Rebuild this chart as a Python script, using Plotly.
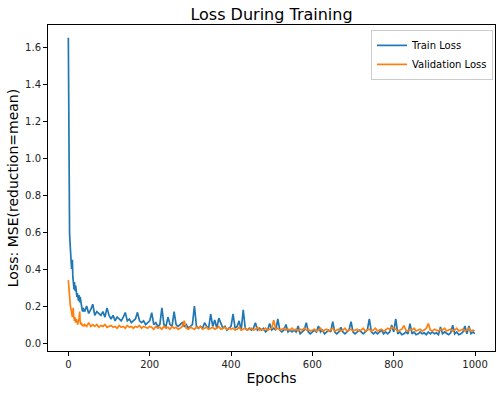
import plotly.graph_objects as go

# x positions: every epoch for the first 40, then every 5 epochs, last epoch 999
EPOCHS = list(range(0, 40)) + list(range(40, 1000, 5)) + [999]

TRAIN_LOSS = [
    # 0-39
    1.65, 0.80, 0.68, 0.60, 0.55, 0.50, 0.46, 0.44, 0.40, 0.42,
    0.45, 0.36, 0.32, 0.31, 0.29, 0.33, 0.30, 0.28, 0.31, 0.29,
    0.26, 0.25, 0.27, 0.24, 0.25, 0.23, 0.26, 0.24, 0.22, 0.25,
    0.23, 0.21, 0.20, 0.19, 0.18, 0.17, 0.18, 0.19, 0.17, 0.18,
    # 40-100
    0.17, 0.20, 0.16, 0.18, 0.21, 0.15, 0.17, 0.16, 0.15, 0.17, 0.14, 0.19, 0.15,
    # 105-200
    0.13, 0.15, 0.12, 0.14, 0.13, 0.12, 0.14, 0.165, 0.12, 0.13,
    0.11, 0.12, 0.13, 0.166, 0.12, 0.11, 0.12, 0.10, 0.11, 0.12,
    # 205-300
    0.164, 0.10, 0.11, 0.09, 0.10, 0.19, 0.10, 0.09, 0.14, 0.10,
    0.09, 0.17, 0.10, 0.09, 0.10, 0.11, 0.09, 0.10, 0.08, 0.09,
    # 305-400
    0.10, 0.20, 0.09, 0.08, 0.09, 0.08, 0.11, 0.09, 0.08, 0.157,
    0.09, 0.125, 0.08, 0.135, 0.11, 0.08, 0.09, 0.07, 0.08, 0.09,
    # 405-500
    0.157, 0.08, 0.09, 0.12, 0.07, 0.18, 0.08, 0.07, 0.08, 0.07,
    0.08, 0.11, 0.07, 0.08, 0.07, 0.08, 0.06, 0.07, 0.106, 0.07,
    # 505-600
    0.08, 0.07, 0.13, 0.07, 0.06, 0.07, 0.10, 0.06, 0.07, 0.06,
    0.07, 0.06, 0.092, 0.05, 0.06, 0.07, 0.11, 0.06, 0.05, 0.06,
    # 605-700
    0.07, 0.06, 0.092, 0.06, 0.07, 0.05, 0.06, 0.07, 0.06, 0.115,
    0.06, 0.05, 0.06, 0.085, 0.06, 0.05, 0.06, 0.07, 0.115, 0.06,
    # 705-800
    0.05, 0.06, 0.07, 0.06, 0.05, 0.06, 0.07, 0.13, 0.06, 0.05,
    0.06, 0.05, 0.06, 0.07, 0.05, 0.06, 0.05, 0.06, 0.097, 0.06,
    # 805-900
    0.13, 0.05, 0.06, 0.045, 0.05, 0.06, 0.05, 0.105, 0.05, 0.06,
    0.045, 0.05, 0.06, 0.05, 0.055, 0.045, 0.06, 0.05, 0.06, 0.05,
    # 905-995, 999
    0.055, 0.045, 0.087, 0.05, 0.06, 0.05, 0.045, 0.055, 0.097, 0.05,
    0.06, 0.045, 0.05, 0.06, 0.092, 0.05, 0.092, 0.05, 0.06, 0.05,
]

VAL_LOSS = [
    # 0-39
    0.34, 0.30, 0.27, 0.25, 0.22, 0.20, 0.19, 0.17, 0.16, 0.15,
    0.14, 0.16, 0.19, 0.15, 0.13, 0.12, 0.14, 0.12, 0.11, 0.13,
    0.12, 0.11, 0.12, 0.10, 0.11, 0.13, 0.12, 0.15, 0.17, 0.12,
    0.11, 0.10, 0.11, 0.10, 0.095, 0.10, 0.09, 0.10, 0.095, 0.09,
    # 40-100
    0.10, 0.09, 0.11, 0.09, 0.10, 0.09, 0.10, 0.085, 0.095, 0.09, 0.10, 0.085, 0.09,
    # 105-200
    0.095, 0.085, 0.09, 0.08, 0.095, 0.085, 0.09, 0.08, 0.095, 0.085,
    0.09, 0.08, 0.09, 0.085, 0.095, 0.08, 0.09, 0.085, 0.08, 0.09,
    # 205-300
    0.085, 0.075, 0.09, 0.08, 0.085, 0.075, 0.09, 0.08, 0.085, 0.075,
    0.09, 0.08, 0.085, 0.075, 0.08, 0.09, 0.12, 0.08, 0.075, 0.085,
    # 305-400
    0.08, 0.075, 0.085, 0.08, 0.09, 0.075, 0.08, 0.085, 0.075, 0.08,
    0.085, 0.075, 0.08, 0.09, 0.075, 0.08, 0.085, 0.075, 0.08, 0.075,
    # 405-500
    0.08, 0.07, 0.075, 0.085, 0.07, 0.075, 0.08, 0.07, 0.075, 0.08,
    0.07, 0.075, 0.085, 0.07, 0.075, 0.07, 0.08, 0.07, 0.075, 0.08,
    # 505-600
    0.124, 0.075, 0.08, 0.07, 0.075, 0.08, 0.07, 0.075, 0.07, 0.08,
    0.07, 0.075, 0.065, 0.075, 0.07, 0.08, 0.07, 0.075, 0.065, 0.07,
    # 605-700
    0.075, 0.065, 0.07, 0.08, 0.065, 0.07, 0.075, 0.065, 0.07, 0.08,
    0.065, 0.07, 0.075, 0.065, 0.07, 0.08, 0.065, 0.07, 0.075, 0.065,
    # 705-800
    0.07, 0.075, 0.065, 0.07, 0.08, 0.065, 0.07, 0.075, 0.065, 0.07,
    0.08, 0.065, 0.07, 0.075, 0.065, 0.07, 0.08, 0.075, 0.085, 0.08,
    # 805-900
    0.075, 0.065, 0.07, 0.075, 0.095, 0.07, 0.065, 0.075, 0.07, 0.08,
    0.065, 0.07, 0.075, 0.065, 0.07, 0.08, 0.105, 0.07, 0.065, 0.075,
    # 905-995, 999
    0.07, 0.065, 0.075, 0.07, 0.08, 0.065, 0.07, 0.075, 0.065, 0.07,
    0.08, 0.065, 0.07, 0.075, 0.065, 0.07, 0.08, 0.065, 0.07, 0.065,
]

X_TICKS = [0, 200, 400, 600, 800, 1000]
Y_TICKS = [0.0, 0.2, 0.4, 0.6, 0.8, 1.0, 1.2, 1.4, 1.6]

n_t = min(len(EPOCHS), len(TRAIN_LOSS))
n_v = min(len(EPOCHS), len(VAL_LOSS))

FONT = "DejaVu Sans"

fig = go.Figure()
fig.add_trace(go.Scatter(x=EPOCHS[:n_t], y=TRAIN_LOSS[:n_t], mode="lines",
                         name="Train Loss", line=dict(color="#1f77b4", width=1.7)))
fig.add_trace(go.Scatter(x=EPOCHS[:n_v], y=VAL_LOSS[:n_v], mode="lines",
                         name="Validation Loss", line=dict(color="#ff7f0e", width=1.7)))

axis_common = dict(
    showline=True, linecolor="black", linewidth=1, mirror=True,
    ticks="outside", ticklen=4, tickwidth=1, tickcolor="black",
    showgrid=False, zeroline=False,
    tickfont=dict(family=FONT, size=10, color="#222222"),
)

fig.update_layout(
    width=501, height=393,
    margin=dict(l=48, r=6, t=25, b=42, autoexpand=False),
    paper_bgcolor="white", plot_bgcolor="white",
    font=dict(family=FONT, color="black"),
    title=dict(text="Loss During Training", x=0.5, xref="paper", y=0.964,
               yref="container", xanchor="center", yanchor="middle",
               font=dict(family=FONT, size=16, color="black")),
    xaxis=dict(range=[-50, 1049], tickvals=X_TICKS,
               title=dict(text="Epochs", font=dict(family=FONT, size=14), standoff=4),
               **axis_common),
    yaxis=dict(range=[-0.043, 1.719], tickvals=Y_TICKS, tickformat=".1f",
               title=dict(text="Loss: MSE(reduction=mean)", font=dict(family=FONT, size=14), standoff=3),
               **axis_common),
    legend=dict(x=0.9955, y=0.985, xanchor="right", yanchor="top",
                bgcolor="rgba(255,255,255,0.8)", bordercolor="#cccccc", borderwidth=1,
                font=dict(family=FONT, size=10, color="black"),
                itemwidth=30, tracegroupgap=0),
    showlegend=True,
)

fig.write_html("out.html", config={"displayModeBar": False},
               post_script="document.body.style.margin='0';")
